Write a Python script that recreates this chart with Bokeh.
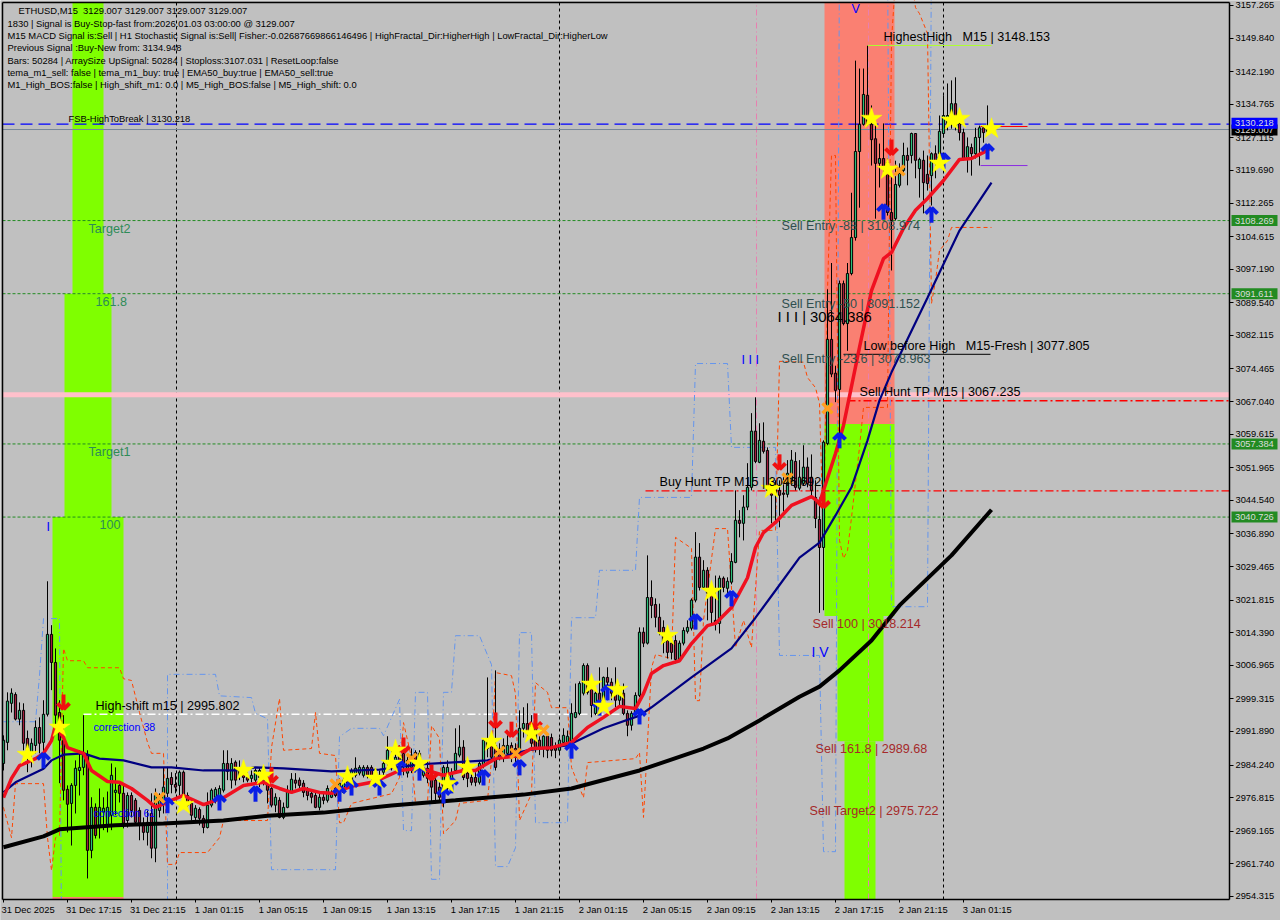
from bokeh.plotting import figure
from bokeh.models import Range1d, FixedTicker, LinearAxis
from bokeh.core.properties import value
from bokeh.embed import file_html
from bokeh.resources import INLINE
import math

# ---------- candles (M15 bars)
directions = ("GGGRGRRGGR" "GGRRRRRGGG" "GRGRGGGGGR" "RGRRRRGRGG" "GGRRGRRRGR" "RGGGGGRGRR" "RRGGGRRRGR" "GGGRRRRRRG"
              "RGGRGGRGGG" "GRRGRGGGGR" "RGGRRGRRRR" "GGGGGRRRRG" "GGRRRGGRRG" "GRRRRGRRRG" "GGGGGGRRGR" "GRRRGRRGGG"
              "RGRRRRRRRG" "GGGGRGRRRG" "RGGGRGGGRG" "RRRRRRGGRG" "GRRRRGGRRG" "RGGGGGRRRG" "RRRGGGRGRG" "RRGRGGGGRR" "RGRGGRG")
body_tops = [
2989.9,2998.8,3000.6,3000.3,2996.7,2996.7,2990.3,2989.2,2992.8,2992.8,
2995.8,3014.0,3014.0,3007.6,2996.2,2989.9,2978.7,2979.6,2983.5,2983.7,
2987.1,2986.5,2974.6,2974.6,2974.6,2974.4,2974.6,2981.9,2978.5,2979.6,
2977.8,2977.3,2977.3,2976.2,2973.9,2971.0,2971.2,2973.2,2977.3,2976.2,
2979.2,2981.2,2981.4,2979.8,2982.6,2982.6,2977.3,2975.5,2974.4,2974.1,
2972.1,2975.1,2978.5,2978.7,2978.9,2984.6,2984.6,2984.6,2984.9,2983.5,
2983.0,2981.4,2981.9,2983.0,2983.0,2982.6,2980.1,2978.9,2976.9,2976.2,
2974.6,2978.5,2981.0,2980.8,2980.8,2980.1,2978.5,2977.8,2977.3,2976.9,
2976.9,2978.9,2978.0,2979.2,2980.1,2980.8,2982.4,2983.0,2983.5,2983.7,
2983.7,2983.7,2983.7,2982.6,2981.9,2984.6,2987.6,2985.8,2986.0,2986.5,
2986.9,2985.3,2986.5,2987.1,2986.9,2983.7,2983.5,2983.0,2980.8,2979.2,
2983.7,2983.7,2982.4,2986.9,2988.3,2988.3,2982.4,2981.4,2981.4,2984.6,
2989.9,2989.9,2989.9,2988.7,2986.9,2988.7,2988.7,2988.7,2988.0,2992.6,
2993.7,2993.7,2993.7,2992.8,2989.9,2990.8,2990.8,2990.5,2988.3,2989.9,
2991.0,2990.8,2996.0,2996.2,3002.8,3006.9,3006.9,3003.5,3000.6,3000.6,
3004.2,3004.2,3003.1,3002.0,3000.6,3000.6,2996.0,2996.0,3000.1,3014.5,
3014.5,3022.4,3022.4,3020.8,3017.9,3015.6,3012.6,3012.0,3012.6,3012.0,
3014.9,3015.6,3021.8,3031.6,3031.6,3028.6,3028.6,3024.0,3017.2,3026.8,
3026.8,3026.1,3030.6,3040.0,3040.0,3043.0,3047.5,3060.3,3060.3,3058.2,
3058.0,3055.9,3048.4,3047.5,3046.8,3046.2,3050.7,3053.7,3053.4,3049.8,
3052.1,3052.1,3049.8,3045.2,3040.2,3057.8,3081.2,3081.2,3073.5,3093.9,
3093.9,3096.2,3104.4,3124.0,3130.2,3137.0,3136.8,3130.2,3126.9,3122.4,
3122.4,3121.5,3110.1,3116.5,3119.0,3123.1,3123.1,3128.1,3128.1,3122.2,
3122.0,3118.8,3123.5,3123.5,3128.6,3132.2,3132.2,3134.9,3134.9,3130.4,
3128.3,3125.1,3124.9,3127.2,3129.4,3129.4,3129.0]
body_bottoms = [
2984.6,2989.4,2998.3,2994.7,2994.7,2989.2,2986.9,2986.9,2988.7,2989.2,
2989.4,2995.8,3007.6,2995.6,2989.9,2978.5,2975.3,2975.5,2979.6,2983.0,
2983.7,2964.8,2964.8,2968.2,2970.0,2973.5,2970.5,2972.8,2978.0,2977.8,
2971.0,2971.6,2973.9,2971.2,2971.0,2968.9,2968.9,2965.3,2965.3,2973.9,
2975.5,2977.8,2979.8,2979.2,2979.6,2977.3,2975.1,2972.8,2972.3,2972.1,
2970.0,2970.0,2975.1,2976.9,2976.9,2978.5,2982.8,2980.8,2980.8,2981.9,
2981.4,2980.8,2981.2,2980.8,2981.4,2980.1,2978.5,2975.1,2975.1,2972.3,
2972.3,2974.6,2978.0,2980.1,2979.6,2978.0,2977.3,2976.9,2974.6,2974.6,
2976.2,2976.2,2976.9,2977.3,2977.8,2978.0,2980.1,2980.3,2981.9,2982.4,
2981.9,2981.9,2981.4,2980.3,2979.6,2982.6,2984.6,2983.7,2983.7,2983.0,
2984.6,2982.4,2983.7,2983.7,2982.4,2981.9,2981.2,2979.2,2977.8,2976.9,
2976.2,2978.9,2980.8,2983.0,2986.5,2981.4,2981.2,2980.3,2980.3,2980.3,
2984.2,2988.0,2986.0,2983.7,2986.0,2986.5,2986.9,2986.5,2986.0,2986.9,
2992.6,2991.4,2989.2,2988.0,2988.0,2988.0,2987.6,2987.6,2987.6,2987.6,
2989.4,2989.4,2989.4,2995.1,2996.0,3000.6,3000.8,2997.8,2996.0,2997.4,
2998.5,3003.1,3000.6,2999.0,2999.0,2996.0,2993.3,2993.3,2996.0,3000.1,
3012.0,3012.0,3020.6,3017.9,3014.5,3012.2,3009.9,3009.9,3008.3,3008.3,
3012.0,3014.7,3015.4,3021.8,3024.7,3024.7,3023.4,3019.0,3016.5,3016.5,
3024.7,3024.5,3025.9,3030.4,3039.3,3039.3,3043.0,3047.5,3053.4,3053.2,
3055.7,3046.8,3045.7,3046.2,3045.7,3045.9,3045.9,3048.4,3047.5,3047.3,
3048.4,3048.4,3046.8,3040.4,3033.8,3033.8,3057.5,3073.3,3069.6,3069.8,
3084.8,3084.8,3096.2,3104.4,3124.0,3130.2,3130.2,3126.7,3121.3,3121.3,
3120.1,3110.1,3108.3,3108.7,3116.3,3119.7,3122.0,3123.1,3122.0,3120.1,
3116.9,3116.7,3118.5,3121.3,3123.5,3128.1,3130.4,3130.4,3129.9,3128.3,
3122.4,3122.4,3123.5,3123.5,3127.2,3128.3,3128.5]
highs = [
2991.0,3000.8,3001.7,3000.8,2998.5,2998.3,2992.1,2990.3,2994.4,2995.1,
2999.0,3026.1,3016.1,3010.8,2999.0,2995.6,2979.6,2980.1,2985.3,2987.6,
2995.6,2987.6,2976.9,2975.5,2978.9,2976.9,2978.2,2984.6,2983.7,2980.5,
2979.6,2978.0,2978.0,2976.7,2974.6,2972.3,2973.9,2977.8,2978.9,2977.8,
2983.7,2983.7,2982.6,2982.4,2983.0,2983.0,2978.0,2976.7,2975.1,2974.6,
2972.8,2978.0,2978.9,2979.2,2979.6,2987.6,2987.6,2985.8,2985.3,2985.3,
2984.2,2982.6,2983.0,2983.5,2983.7,2983.0,2980.8,2979.2,2977.8,2976.9,
2975.7,2979.6,2982.4,2982.4,2981.4,2980.8,2979.2,2978.5,2978.5,2977.8,
2978.0,2979.6,2979.2,2979.6,2981.2,2981.9,2983.5,2983.5,2986.0,2984.2,
2984.2,2984.2,2984.2,2983.5,2983.0,2985.3,2990.8,2987.6,2987.1,2988.7,
2989.4,2986.5,2988.0,2987.6,2987.6,2985.3,2985.3,2984.2,2981.4,2980.3,
2984.2,2985.3,2983.5,2992.6,2993.3,2989.9,2983.0,2983.0,2982.6,2985.3,
2990.3,3004.2,2991.0,3005.8,2989.2,2990.3,2991.0,2989.4,2989.2,2996.7,
2997.4,2998.3,2995.6,2994.4,2991.4,2991.0,2991.0,2991.4,2989.4,2990.5,
2992.6,2992.1,2998.3,3002.8,3003.3,3007.4,3007.4,3004.2,3001.0,3006.5,
3004.4,3006.5,3004.0,3006.5,3002.5,3002.8,2996.7,2996.5,3000.8,3015.6,
3015.6,3032.0,3026.3,3022.2,3021.0,3017.2,3014.2,3012.6,3013.8,3012.6,
3015.6,3017.2,3022.2,3037.3,3034.8,3030.9,3029.3,3025.2,3027.4,3027.4,
3027.2,3027.0,3032.5,3046.8,3042.3,3045.7,3053.0,3064.4,3068.0,3062.1,
3062.3,3056.6,3049.8,3049.1,3049.1,3049.8,3053.7,3056.0,3055.5,3053.7,
3057.1,3054.3,3055.0,3049.1,3045.2,3058.2,3092.6,3098.6,3075.2,3094.6,
3094.6,3098.6,3114.6,3144.7,3142.9,3142.9,3148.1,3134.5,3130.4,3125.8,
3130.4,3122.4,3118.1,3121.9,3121.3,3126.0,3124.9,3128.3,3128.1,3122.6,
3124.2,3123.1,3123.8,3125.4,3132.2,3136.8,3139.5,3140.2,3140.9,3132.9,
3129.2,3127.2,3125.8,3129.4,3129.9,3129.9,3134.5]
lows = [
2983.0,2987.6,2996.2,2994.4,2993.3,2987.6,2982.6,2983.7,2986.9,2986.9,
2986.9,2995.3,3001.3,2993.5,2980.1,2976.2,2968.9,2965.9,2973.2,2977.3,
2981.9,2958.4,2963.0,2967.5,2967.5,2969.4,2968.9,2969.4,2972.8,2975.7,
2969.8,2970.0,2972.3,2970.5,2967.1,2967.1,2965.9,2963.0,2962.1,2972.3,
2973.2,2976.9,2977.8,2977.8,2977.3,2976.9,2974.6,2971.6,2971.2,2970.5,
2968.7,2969.8,2974.6,2975.5,2976.7,2978.0,2980.8,2978.9,2979.6,2980.8,
2980.3,2980.3,2980.3,2979.8,2979.2,2979.6,2975.5,2974.6,2973.5,2972.1,
2971.9,2974.4,2977.8,2978.9,2978.9,2976.9,2976.2,2975.5,2974.4,2973.9,
2975.3,2975.7,2976.7,2976.9,2976.9,2977.8,2979.6,2979.6,2981.4,2981.9,
2981.4,2981.2,2980.8,2979.8,2979.2,2981.9,2983.7,2983.0,2982.6,2981.9,
2981.9,2981.4,2982.4,2982.6,2981.2,2981.4,2980.1,2975.5,2975.5,2976.2,
2974.6,2978.5,2980.3,2982.6,2986.0,2980.8,2979.2,2979.6,2979.4,2979.8,
2983.5,2986.0,2984.9,2983.0,2985.3,2984.9,2985.8,2984.9,2984.6,2986.2,
2990.5,2990.3,2988.3,2987.1,2986.5,2986.0,2985.8,2986.2,2985.8,2986.9,
2988.5,2988.5,2988.7,2994.9,2995.6,3000.1,3000.3,2995.1,2995.6,2996.7,
2997.4,2999.0,2999.0,2997.4,2997.8,2995.6,2990.8,2992.1,2995.6,2999.7,
3011.1,3011.7,3017.7,3015.6,3013.8,3009.7,3008.5,3008.3,3007.4,3008.1,
3011.5,3014.2,3014.9,3021.3,3024.0,3024.3,3017.2,3016.1,3014.9,3014.2,
3023.6,3022.9,3025.4,3030.2,3036.1,3035.4,3042.3,3046.8,3053.0,3053.0,
3055.2,3045.7,3039.3,3039.3,3038.4,3042.0,3045.2,3047.9,3046.8,3046.8,
3047.9,3047.5,3045.2,3038.2,3018.9,3019.5,3057.1,3072.6,3066.9,3058.2,
3084.4,3078.6,3095.8,3103.7,3111.2,3129.9,3129.9,3120.8,3108.7,3115.8,
3119.2,3109.4,3096.9,3108.3,3115.8,3119.0,3116.3,3121.3,3117.9,3113.5,
3109.9,3115.1,3111.7,3117.9,3120.8,3127.2,3128.8,3129.2,3128.8,3126.5,
3122.0,3119.2,3118.5,3122.4,3120.8,3126.0,3128.0]

# ---------- moving averages (bar index, price)
red_idx = [0,2,4,8,10,12,13,15,16,20,22,26,29,32,36,38,42,45,50,55,60,65,69,72,75,79,82,87,93,99,104,110,115,118,123,129,132,137,142,146,150,154,158,160,162,165,169,172,176,178,182,186,188,190,193,197,202,204,208,210,214,217,220,222,225,228,231,235,239,242,245,247]
red_val = [2976.8,2981.2,2984.1,2985.7,2986.9,2989.8,2993.2,2990.5,2988.2,2986.9,2983.0,2980.5,2980.3,2978.9,2976.2,2974.6,2976.2,2977.3,2975.2,2976.8,2979.6,2980.3,2978.9,2978.0,2978.9,2978.0,2977.8,2979.4,2980.5,2983.0,2983.5,2981.9,2983.0,2983.0,2985.7,2986.4,2988.0,2988.2,2989.4,2992.8,2995.1,2997.6,2997.1,3000.5,3005.1,3006.9,3008.0,3011.9,3016.0,3016.5,3020.1,3026.9,3033.8,3037.2,3039.5,3043.4,3045.4,3044.0,3055.2,3061.6,3079.4,3092.3,3099.6,3101.0,3106.5,3110.6,3113.3,3117.4,3122.2,3122.4,3123.8,3124.9]
navy_idx = [0,3,10,12,15,20,24,30,37,42,50,58,63,70,82,94,104,121,131,141,150,159,162,172,182,188,193,199,204,208,212,216,219,222,231,239,247]
navy_val = [2978.0,2980.3,2983.4,2985.3,2986.6,2986.9,2985.7,2985.3,2983.7,2983.7,2983.0,2983.0,2983.7,2983.5,2982.8,2983.2,2984.4,2985.3,2987.6,2988.7,2992.6,2995.5,2997.4,3004.2,3010.8,3017.8,3024.0,3031.5,3034.9,3041.1,3047.5,3058.2,3067.3,3073.7,3090.7,3106.0,3116.9]
black_idx = [0,10,14,20,28,40,55,66,80,97,113,130,142,159,175,181,189,199,204,209,217,224,237,247]
black_val = [2965.5,2968.0,2969.6,2970.0,2970.5,2970.9,2971.6,2972.7,2973.4,2975.0,2976.2,2977.5,2978.9,2983.0,2988.0,2990.3,2994.4,2999.8,3002.1,3005.8,3012.6,3020.6,3032.0,3042.4]

# ---------- step channels
blue_idx = [0,8,9,10,14,14.5,41,41,53,54,62,63,66,67,83,84,87,94,95,99,100,102,103,106,107,109,110,112,113,119,122,123,126,128,129,132,133,141,142,148,149,158,159,172,173,181,182,193,194,204,205,208,209,221,222,231,232]
blue_val = [2994.1,2994.1,3004.6,3017.6,3017.6,2946.5,2946.5,3004.9,3004.9,3000.0,2999.6,2996.0,2994.8,2960.4,2960.4,2990.7,2992.6,2992.6,2990.9,2999.2,2969.3,2969.3,3000.8,3000.8,2958.2,2958.2,3000.8,3000.8,3013.7,3013.7,3007.1,2961.1,2961.1,2965.4,3014.4,3014.4,2971.1,2971.1,3017.8,3017.8,3028.6,3028.6,3045.2,3045.2,3075.7,3075.7,3056.6,3056.6,3009.2,3009.2,2964.5,2964.5,3170.0,3170.0,3020.3,3020.3,3170.0]
orange_idx = [0,2,3,10,11,12,13,14,15,16,20,21,29,30,32,34,36,37,40,41,43,44,51,54,55,66,67,69,70,77,78,79,83,84,85,87,97,99,100,102,103,106,107,109,110,113,114,121,122,123,127,128,129,132,133,136,137,141,142,143,145,146,158,159,160,162,163,167,168,172,173,174,175,178,181,183,185,187,189,193,194,200,201,203,204,205,206,207,208,209,210,211,212,214,215,221,222,223,227,228,229,231,232,233,234,236,237,247]
orange_val = [2974.6,2967.7,2980.0,2980.0,2967.7,2960.2,2967.7,2968.2,3010.8,3008.0,3008.0,3006.4,3006.4,3003.9,3003.5,2996.2,2989.4,2986.9,2986.9,2961.6,2961.6,2964.3,2964.3,2967.7,2971.6,2971.6,2988.2,2999.4,2987.6,2988.0,2996.2,2986.9,2986.4,2971.1,2971.1,2975.5,2977.7,2981.4,2993.9,2985.9,2975.5,2975.5,2993.2,2990.3,2968.6,2971.6,2975.5,2976.2,2985.3,3005.3,3004.6,3000.5,2971.6,2977.7,3003.0,3000.8,2997.3,2997.3,2983.7,2981.4,2976.8,2984.8,2985.7,2987.1,2972.3,3006.4,3009.4,3008.5,3036.1,3033.6,2998.9,2998.9,3017.2,3038.1,3038.1,3011.0,3017.2,3011.0,3037.7,3037.7,3076.2,3076.0,3072.5,3070.2,3066.6,3035.4,3092.3,3123.1,3123.1,3035.4,3031.3,3033.1,3040.6,3056.6,3065.7,3065.7,3149.3,3163.0,3163.0,3156.8,3155.4,3150.9,3089.4,3094.6,3101.4,3103.7,3106.7,3106.7]

# ---------- signals
star_idx = [6,14,45,60,65,86,93,97,98,104,111,116,122,132,147,150,153.5,166,177,192,217,221,234,237,239,247]
star_val = [2986.6,2992.8,2975.2,2983.0,2981.9,2981.6,2981.2,2984.6,2987.6,2984.6,2980.0,2983.7,2989.6,2991.4,3002.6,2997.6,3001.4,3013.7,3023.8,3047.2,3131.5,3119.9,3121.3,3131.1,3131.5,3129.2]
cross_idx = [39,83,102,124,128,135,196,206,224]
cross_val = [2976.8,2979.8,2985.7,2987.3,2986.9,2992.1,3049.5,3065.5,3119.7]
up_idx = [10,41,54,63,84,87,94,99,104,110,112,120,129,142,149,151,159,173,182,209,220,232,246,235]
up_val = [2986.9,2976.7,2977.3,2979.3,2979.3,2980.7,2980.7,2985.3,2984.1,2978.9,2981.2,2983.0,2985.3,2989.1,2998.9,3002.4,2996.9,3018.5,3023.8,3059.8,3111.9,3111.2,3125.6,3123.5]
down_idx = [15,67,100,107,123,127,133,194,205,222]
down_val = [2996.9,2980.3,2987.1,2980.9,2992.8,2990.7,2992.6,3051.6,3042.9,3123.3]

# ---------- levels
green_levels = [3108.269, 3091.611, 3057.384, 3040.726]
fsb_high = 3130.218
last_price = 3129.007
pink_level = 3068.6
sell_hunt = 3067.235
buy_hunt = 3046.692
high_shift = 2995.802
low_before_high = 3077.805
highest_high = 3148.153
separators = [43.25, 139, 235]
pink_verticals = [188.25, 216.25]

left_blocks = [(12.25, 30, 2954.2, 3040.726), (15.25, 27, 3040.726, 3091.611), (17.25, 25, 3091.611, 3157.9)]
right_blocks = [(210.25, 218, 2953.6, 2989.68), (208.5, 220, 2989.68, 3018.214), (205.25, 222.75, 3018.214, 3061.9)]
salmon_blocks = [(205.25, 222.75, 3061.9, 3157.9), (12.25, 30, 2953.6, 2954.2)]

y_ticks = [3157.265,3149.840,3142.190,3134.765,3127.115,3119.690,3112.265,3104.615,3097.190,3089.540,3082.115,3074.465,3067.040,3059.615,3051.965,3044.540,3036.890,3029.465,3021.815,3014.390,3006.965,2999.315,2991.890,2984.240,2976.815,2969.165,2961.740,2954.315]
x_tick_labels = ["31 Dec 2025","31 Dec 17:15","31 Dec 21:15","1 Jan 01:15","1 Jan 05:15","1 Jan 09:15","1 Jan 13:15","1 Jan 17:15","1 Jan 21:15","2 Jan 01:15","2 Jan 05:15","2 Jan 09:15","2 Jan 13:15","2 Jan 17:15","2 Jan 21:15","3 Jan 01:15"]

comment_lines = [
 "ETHUSD,M15\u00a0\u00a03129.007 3129.007 3129.007 3129.007",
 "1830 | Signal is Buy-Stop-fast from:2026.01.03 03:00:00 @ 3129.007",
 "M15 MACD Signal is:Sell | H1 Stochastic Signal is:Sell| Fisher:-0.02687669866146496 | HighFractal_Dir:HigherHigh | LowFractal_Dir:HigherLow",
 "Previous Signal :Buy-New from: 3134.948",
 "Bars: 50284 | ArraySize UpSignal: 50284 | Stoploss:3107.031 | ResetLoop:false",
 "tema_m1_sell: false | tema_m1_buy: true | EMA50_buy:true | EMA50_sell:true",
 "M1_High_BOS:false | High_shift_m1: 0.0 | M5_High_BOS:false | M5_High_shift: 0.0",
]

X0, XS = 3.0, 4.0
PTOP, PS = 3158.4, 0.2278
def bx(px): return (px - X0) / XS
def pr(py): return PTOP - PS * py

yb, yt = pr(899), pr(2)
xl, xr = bx(2), bx(1229)

p = figure(width=1280, height=920, output_backend="svg", toolbar_location=None,
           x_range=Range1d(bx(0), bx(1280)), y_range=Range1d(pr(920), pr(0)),
           y_axis_location="right", min_border_left=0, min_border_top=0, min_border_right=0, min_border_bottom=0,
           background_fill_color="#C0C0C0", border_fill_color="#C0C0C0")
p.grid.visible = False
p.outline_line_color = None

FONT = "Liberation Sans"
ya = p.yaxis[0]
ya.fixed_location = xr
ya.bounds = (yb, yt)
ya.ticker = FixedTicker(ticks=y_ticks)
ya.major_label_overrides = {t: f"{t:.3f}" for t in y_ticks}
ya.major_tick_in = 0; ya.major_tick_out = 4; ya.minor_tick_line_color = None
ya.axis_line_color = "black"; ya.axis_line_width = 1.5
ya.major_label_text_font = FONT; ya.major_label_text_font_size = "9.3px"; ya.major_label_text_color = "black"
ya.major_label_standoff = 2

# tick marks on one bottom axis, date labels on a second one, shifted so they start at the tick
xa = p.xaxis[0]
x_ticks = [16 * i for i in range(len(x_tick_labels))]
xa.fixed_location = yb
xa.bounds = (xl, xr)
xa.ticker = FixedTicker(ticks=x_ticks)
xa.major_label_overrides = {t: " " for t in x_ticks}
xa.major_label_text_font_size = "1px"
xa.major_tick_in = 0; xa.major_tick_out = 3; xa.minor_tick_line_color = None
xa.axis_line_color = "black"; xa.axis_line_width = 1.5
label_shift = [6.15 if "2025" in s else 6.6 if "Dec" in s else 5.95 for s in x_tick_labels]
label_ticks = [t + d for t, d in zip(x_ticks, label_shift)]
xb = LinearAxis(ticker=FixedTicker(ticks=label_ticks), major_label_overrides=dict(zip(label_ticks, x_tick_labels)), fixed_location=yb)
xb.major_tick_in = 0; xb.major_tick_out = 0; xb.minor_tick_line_color = None; xb.axis_line_color = None
xb.major_label_text_font = FONT; xb.major_label_text_font_size = "9.4px"; xb.major_label_text_color = "black"
xb.major_label_standoff = 4
p.add_layout(xb, "below")

def blocks(lst, color):
    p.quad(left=[b[0] for b in lst], right=[b[1] for b in lst], bottom=[b[2] for b in lst], top=[b[3] for b in lst],
           fill_color=color, line_color=None)
blocks(left_blocks, "#7FFF00"); blocks(right_blocks, "#7FFF00"); blocks(salmon_blocks, "#FA8072")

# vertical lines
p.segment(x0=separators, x1=separators, y0=[yb]*3, y1=[yt]*3, line_color="black", line_dash="3 3", line_width=1)
p.segment(x0=pink_verticals, x1=pink_verticals, y0=[yb]*2, y1=[yt]*2, line_color="#E87FB0", line_dash="6 3 1 3", line_width=1)
# horizontal levels
p.segment(x0=[xl]*4, x1=[xr]*4, y0=green_levels, y1=green_levels, line_color="#228B22", line_dash="3 2", line_width=1)
p.segment(x0=[xl], x1=[xr], y0=[pink_level], y1=[pink_level], line_color="#FFC0CB", line_width=5)
p.segment(x0=[xl], x1=[xr], y0=[last_price], y1=[last_price], line_color="#778899", line_width=1)
p.segment(x0=[xl], x1=[xr], y0=[fsb_high], y1=[fsb_high], line_color="#0000FF", line_dash="12 6", line_width=1.2)
p.segment(x0=[bx(847)], x1=[xr], y0=[sell_hunt], y1=[sell_hunt], line_color="#FF0000", line_dash="8 3 2 3", line_width=1.4)
p.segment(x0=[bx(645)], x1=[xr], y0=[buy_hunt], y1=[buy_hunt], line_color="#FF0000", line_dash="8 3 2 3", line_width=1.4)
p.segment(x0=[20], x1=[155], y0=[high_shift], y1=[high_shift], line_color="#FFFFFF", line_dash="8 3 2 3", line_width=1.5)
p.segment(x0=[bx(843)], x1=[bx(990)], y0=[low_before_high], y1=[low_before_high], line_color="black", line_width=1)
p.segment(x0=[bx(867)], x1=[bx(991)], y0=[highest_high], y1=[highest_high], line_color="#ADFF2F", line_width=1)
p.segment(x0=[bx(980)], x1=[bx(1027)], y0=[3129.7], y1=[3129.7], line_color="#FF0000", line_width=1.2)
p.segment(x0=[bx(980)], x1=[bx(1027)], y0=[3120.8], y1=[3120.8], line_color="#8A2BE2", line_width=1)

# channels
p.line(blue_idx, blue_val, line_color="#6495ED", line_dash="6 3 1 3", line_width=1)
p.line(orange_idx, orange_val, line_color="#FF4500", line_dash="4 3", line_width=1)

# candles
idx = list(range(len(body_tops)))
p.segment(x0=idx, x1=idx, y0=lows, y1=highs, line_color="black", line_width=1)
up_bars = [i for i in idx if directions[i] == "G"]
dn_bars = [i for i in idx if directions[i] == "R"]
p.vbar(x=up_bars, width=0.55, top=[body_tops[i] for i in up_bars], bottom=[body_bottoms[i] for i in up_bars],
       fill_color="#2BBF7A", line_color="black", line_width=1)
p.vbar(x=dn_bars, width=0.55, top=[body_tops[i] for i in dn_bars], bottom=[body_bottoms[i] for i in dn_bars],
       fill_color="#A31C3D", line_color="black", line_width=1)

# averages
p.line(black_idx, black_val, line_color="black", line_width=4)
p.line(navy_idx, navy_val, line_color="#000080", line_width=2.2)
p.line(red_idx, red_val, line_color="#F01020", line_width=3.5)

# markers
def arrows(xs, ys, color, up):
    sgn = 1 if up else -1
    for ang in (math.pi / 2, math.pi / 4, 3 * math.pi / 4):
        ln = 15 if ang == math.pi / 2 else 8.5
        p.ray(xs, ys, length=ln, length_units="screen", angle=-sgn * ang, line_color=color, line_width=4)
arrows(up_idx, up_val, "#0A1EE6", True)
arrows(down_idx, down_val, "#F01010", False)
p.scatter(cross_idx, cross_val, marker="x", size=14, line_color="#FFA01E", line_width=3.5)
p.scatter(star_idx, star_val, marker="star", size=22, fill_color="#FFFF00", line_color="#FFFF00", line_width=0.5)

# mask what runs past the chart window, then its left and top borders
blocks([(bx(0), bx(1280), pr(920), yb), (bx(0), bx(1280), yt, pr(0)), (bx(0), xl, pr(920), pr(0))], "#C0C0C0")
p.segment(x0=[xl, xl], x1=[xl, xr], y0=[yb, yt], y1=[yt, yt], line_color="black", line_width=1.5)

# texts
def txt(px, py, s, color="black", size=12.6, font=FONT):
    p.text(x=[bx(px)], y=[pr(py)], text=[s], text_color=color, text_font=value(font), text_font_size=f"{size}px",
           text_baseline="middle", text_align="left")

txt(18, 10, comment_lines[0], size=9.4)
for k, line in enumerate(comment_lines[1:]):
    txt(7, 23 + k * 12.2, line, size=9.4)
txt(68, 118, "FSB-HighToBreak | 3130.218", size=9.4)
txt(883, 36, "HighestHigh\u00a0\u00a0\u00a0M15 | 3148.153")
for px_, py_, s in [(88, 228, "Target2"), (95, 301, "161.8"), (88, 451, "Target1"), (99, 524, "100")]:
    txt(px_, py_, s, color="#2E8B57")
DSG = "#2F4F4F"
txt(781, 225, "Sell Entry -88 | 3108.974", DSG)
txt(781, 303, "Sell Entry -50 | 3091.152", DSG)
txt(781, 358, "Sell Entry -23.6 | 3078.963", DSG)
txt(777, 316, "I I I | 3064.386", size=14.8)
txt(863, 345, "Low before High\u00a0\u00a0\u00a0M15-Fresh | 3077.805")
txt(859, 391, "Sell Hunt TP M15 | 3067.235")
txt(659, 481, "Buy Hunt TP M15 | 3046.692")
txt(741, 359, "I I I", "#0000FF")
txt(46, 526, "I", "#0000FF")
txt(811, 651, "I V", "#0000FF", 14)
txt(851, 8, "V", "#0000FF")
txt(812, 623, "Sell 100 | 3018.214", "#A52A2A")
txt(815, 748, "Sell 161.8 | 2989.68", "#A52A2A")
txt(809, 810, "Sell Target2 | 2975.722", "#A52A2A")
txt(95, 705, "High-shift m15 | 2995.802")
txt(93, 726, "correction 38", "#0000FF", 10.7)
txt(93, 812, "correction 61", "#0000FF", 10.7)

# price tags on the right axis
tag_prices = [3129.007, 3130.218, 3108.269, 3091.611, 3057.384, 3040.726]
tag_colors = ["#000000", "#0000FF", "#228B22", "#228B22", "#228B22", "#228B22"]
tag_y_shift = [-0.1, 0.2, 0, 0, 0, 0]
half_tag = 5.5 * PS
for price, bg, dy in zip(tag_prices, tag_colors, tag_y_shift):
    p.quad(left=[bx(1231)], right=[bx(1277)], bottom=[price + dy - half_tag], top=[price + dy + half_tag],
           fill_color=bg, line_color=None, level="overlay")
    p.text(x=[bx(1234.5)], y=[price + dy], text=[f"{price:.3f}"], text_color="#DCDCDC", text_font=value(FONT),
           text_font_size="9.3px", text_baseline="middle", text_align="left", level="overlay")

open("out.html", "w").write(file_html(p, INLINE))
